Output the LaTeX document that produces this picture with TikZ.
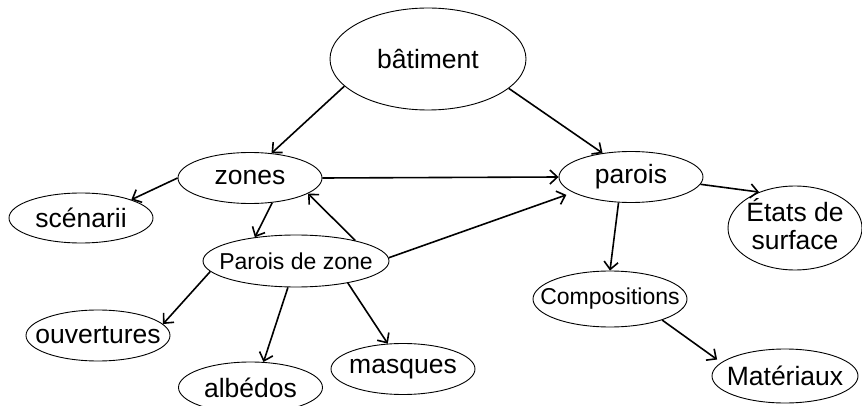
\documentclass[tikz,border=0pt]{standalone}
\usepackage{fontspec}
\setmainfont{Liberation Sans}
\usetikzlibrary{shapes, arrows.meta}
\newcommand{\ctext}[1]{\makebox[0pt]{#1}}

\begin{document}
\begin{tikzpicture}[x=1pt, y=-1pt, >={Straight Barb[length=7.5pt,width=14pt]},
    bubble/.style 2 args={ellipse, draw, line width=0.9pt, inner sep=0pt,
      minimum width=#1, minimum height=#2,
      font=\fontsize{26.5}{28}\selectfont},
    smalltext/.style={font=\fontsize{23}{25}\selectfont},
    every edge/.style={draw, line width=1.6pt}]
        \useasboundingbox (0,0) rectangle (862,406);

        \node[bubble={196pt}{102pt}]           (batiment)  at (428,59)      {\ctext{bâtiment}};
        \node[bubble={144pt}{51pt}]            (zones)     at (250,178)     {\ctext{zones}};
        \node[bubble={144pt}{51pt}]            (parois)    at (631,177)     {\ctext{parois}};
        \node[bubble={134pt}{82pt}]            (etats)     at (795,228)     {\ctext{\begin{tabular}{@{}c@{}}États de\\surface\end{tabular}}};
        \node[bubble={154pt}{56pt}, smalltext] (compo)     at (610,299)     {\ctext{Compositions}};
        \node[bubble={146pt}{54pt}]            (materiaux) at (785,376)     {\ctext{Matériaux}};
        \node[bubble={144pt}{50pt}]            (scenarii)  at (81,218)      {\ctext{scénarii}};
        \node[bubble={186pt}{52pt}, smalltext] (pzone)     at (296,261)     {\ctext{Parois de zone}};
        \node[bubble={144pt}{51pt}]            (ouvert)    at (98,335.5)    {\ctext{ouvertures}};
        \node[bubble={144pt}{51pt}]            (albedos)   at (250.5,387.5) {\ctext{albédos}};
        \node[bubble={144pt}{51pt}]            (masques)   at (403,369)     {\ctext{masques}};

        \path[->]
          (batiment.198) edge                   (zones.49)
          (batiment.340) edge                   (parois.140)
          (zones.east)   edge                   (parois.west)
          (zones.west)   edge                   (scenarii.20)
          (zones.312)    edge                   (pzone.150)
          (pzone.19)     edge                   (zones.345)
          (pzone.2)      edge [shorten >=7pt]   (parois.195)
          (pzone.187)    edge                   (ouvert.10)
          (pzone.253)    edge                   (albedos.63)
          (pzone.337)    edge                   (masques.121)
          (parois.354)   edge                   (etats.135)
          (parois.244)   edge                   (compo.north)
          (compo.338)    edge [shorten >=5pt]   (materiaux.168);
      \end{tikzpicture}
\end{document}
